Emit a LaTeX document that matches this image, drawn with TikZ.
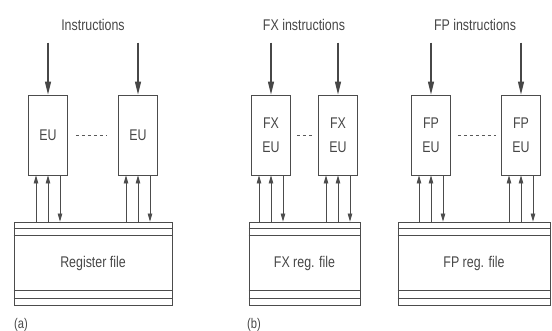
\documentclass[tikz,border=0pt]{standalone}
\usepackage{fontspec}
\setmainfont{Liberation Sans}[FakeStretch=0.8]
\usetikzlibrary{positioning, arrows.meta}

\begin{document}
\begin{tikzpicture}[
    x=1pt, y=-1pt,
    every node/.style={text=black!72},
    eu/.style={rectangle, draw=black!70, line width=0.8pt, minimum width=39pt, minimum height=80pt, inner sep=0pt, align=center, font=\fontsize{15.5}{24}\selectfont},
    regfile/.style={rectangle, draw=black!70, line width=0.8pt, minimum height=83pt, inner sep=0pt, font=\fontsize{15.5}{17}\selectfont},
    regline/.style={draw=black!70, line width=0.8pt},
    title/.style={font=\fontsize{15.5}{17}\selectfont},
    tag/.style={font=\fontsize{14}{16}\selectfont},
    inarrow/.style={-{Triangle[length=13pt, width=6pt]}, draw=black!72, line width=1.1pt},
    uparrow/.style={-{Triangle[length=8pt, width=4.5pt]}, draw=black!70, line width=0.7pt},
    dots/.style={draw=black!65, line width=0.8pt, dash pattern=on 3pt off 3pt}
]
\useasboundingbox (0,0) rectangle (552,331);

% (a) Register file with EUs
\node[title] (insa) at (93,25) {Instructions};
\node[eu] (eua1) at (48,135) {EU};
\node[eu] (eua2) at (138,135) {EU};
\node[regfile, minimum width=158pt] (rfa) at (93,263.5) {Register file};
\node[tag] (taga) at (21,325) {(a)};

% (b) FX units
\node[title] (insb) at (304,25) {FX instructions};
\node[eu] (eub1) at (271,135) {FX\\EU};
\node[eu] (eub2) at (338,135) {FX\\EU};
\node[regfile, minimum width=111pt] (rfb) at (304.5,263.5) {FX reg. file};
\node[tag] (tagb) at (254,325) {(b)};

% (c) FP units
\node[title] (insc) at (475,25) {FP instructions};
\node[eu] (euc1) at (431,135) {FP\\EU};
\node[eu] (euc2) at (521,135) {FP\\EU};
\node[regfile, minimum width=152pt] (rfc) at (474,263.5) {FP reg. file};

% Instruction arrows
\draw[inarrow] ([yshift=52pt]eua1.north) -- (eua1.north);
\draw[inarrow] ([yshift=52pt]eua2.north) -- (eua2.north);
\draw[inarrow] ([yshift=52pt]eub1.north) -- (eub1.north);
\draw[inarrow] ([yshift=52pt]eub2.north) -- (eub2.north);
\draw[inarrow] ([yshift=52pt]euc1.north) -- (euc1.north);
\draw[inarrow] ([yshift=52pt]euc2.north) -- (euc2.north);

% Dotted gaps between units
\draw[dots, shorten <=8pt, shorten >=12pt] (eua1.east) -- (eua2.west);
\draw[dots, shorten <=6pt, shorten >=5pt] (eub1.east) -- (eub2.west);
\draw[dots, shorten <=7pt, shorten >=5pt] (euc1.east) -- (euc2.west);

% Ports between register files and units
\foreach \u/\r in {eua1/rfa, eua2/rfa, eub1/rfb, eub2/rfb, euc1/rfc, euc2/rfc} {
  \draw[uparrow] ([xshift=-12pt]\u.south |- \r.north) -- ([xshift=-12pt]\u.south);
  \draw[uparrow] (\u.south |- \r.north) -- (\u.south);
  \draw[uparrow] ([xshift=12pt]\u.south) -- ([xshift=12pt]\u.south |- \r.north);
}

% Bus lines inside register files
\foreach \r in {rfa, rfb, rfc} {
  \draw[regline] ([yshift=-7pt]\r.north west) -- ([yshift=-7pt]\r.north east);
  \draw[regline] ([yshift=-14pt]\r.north west) -- ([yshift=-14pt]\r.north east);
  \draw[regline] ([yshift=7pt]\r.south west) -- ([yshift=7pt]\r.south east);
  \draw[regline] ([yshift=15pt]\r.south west) -- ([yshift=15pt]\r.south east);
}

\end{tikzpicture}
\end{document}
